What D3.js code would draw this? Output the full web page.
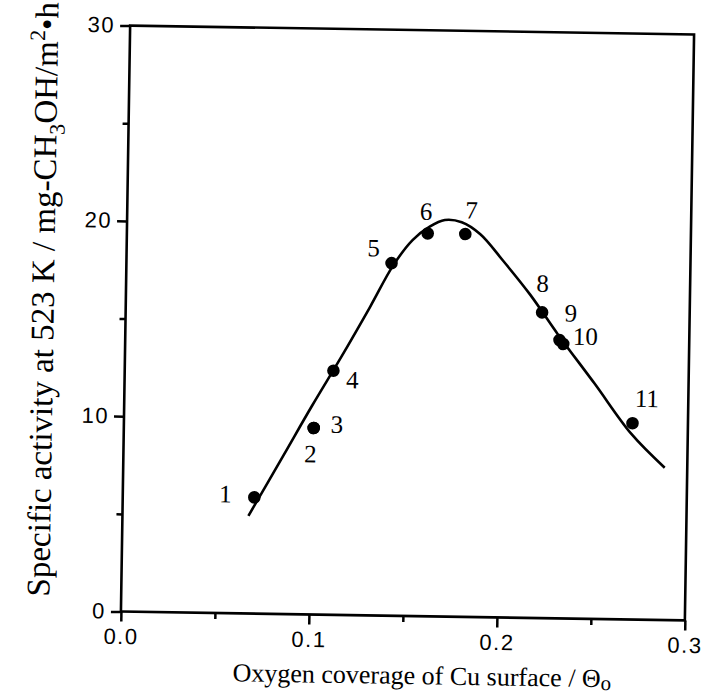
<!DOCTYPE html>
<html>
<head>
<meta charset="utf-8">
<script src="https://cdn.jsdelivr.net/npm/d3@7"></script>
<style>
  body { margin: 0; background: #fff; }
  .serif { font-family: "Liberation Serif", "Times New Roman", serif; fill: #000; }
</style>
</head>
<body>
<div id="chart"></div>
<script>
// sample numbers
var sampleIds = ["1", "2", "3", "4", "5", "6", "7", "8", "9", "10", "11"];
// oxygen coverage of Cu surface
var coverage = [0.070, 0.101, 0.101, 0.111, 0.141, 0.160, 0.180, 0.2215, 0.231, 0.233, 0.2705];
// specific activity at 523 K
var activity = [5.95, 9.55, 9.55, 12.5, 18.05, 19.6, 19.6, 15.65, 14.25, 14.05, 10.05];

// drawn trend curve
var curveX = [0.067, 0.085, 0.100, 0.115, 0.130, 0.142, 0.152, 0.161, 0.169, 0.178, 0.188, 0.200, 0.215, 0.230, 0.250, 0.270, 0.288];
var curveY = [5.0, 8.1, 10.7, 13.2, 15.8, 17.95, 19.25, 19.95, 20.3, 20.2, 19.6, 18.3, 16.55, 14.55, 12.05, 9.5, 7.8];

var xTicks = [0, 0.1, 0.2, 0.3];
var xMinor = [0.05, 0.15, 0.25];
var yTicks = [0, 10, 20, 30];
var yMinor = [5, 15, 25];

// label offsets from each dot (px)
var labelOffsets = [[-29, -3], [-3, 26], [23, -4], [19, 9], [-18, -15], [-2, -22], [6, -24], [0, -29], [11, -27], [22, -8], [14, -25]];

var width = 702, height = 694;
var margin = {top: 30, right: 12.5, bottom: 78, left: 125.5};
var w = width - margin.left - margin.right,
    h = height - margin.top - margin.bottom;

var svg = d3.select("#chart").append("svg")
    .attr("width", width)
    .attr("height", height);

// the scan is a touch rotated
var g = svg.append("g")
    .attr("transform", "rotate(0.9," + (margin.left + w / 2) + "," + (margin.top + h / 2) + ") translate(" + margin.left + "," + margin.top + ")");

var x = d3.scaleLinear().domain([0, 0.3]).range([0, w]);
var y = d3.scaleLinear().domain([0, 30]).range([h, 0]);

var xAxis = g.append("g")
    .attr("transform", "translate(0," + h + ")")
    .call(d3.axisBottom(x).tickValues(xTicks).tickFormat(d3.format(".1f")).tickSize(10).tickPadding(6));

g.append("g")
    .attr("transform", "translate(0," + h + ")")
    .call(d3.axisBottom(x).tickValues(xMinor).tickFormat("").tickSize(6));

var yAxis = g.append("g")
    .call(d3.axisLeft(y).tickValues(yTicks).tickFormat(d3.format("d")).tickSize(10).tickPadding(5));

g.append("g")
    .call(d3.axisLeft(y).tickValues(yMinor).tickFormat("").tickSize(6));

g.selectAll(".domain").remove();

g.selectAll(".tick line")
    .style("stroke", "#000")
    .style("stroke-width", "2.5px");

g.selectAll(".tick text")
    .style("font-family", "'Liberation Sans', Arial, sans-serif")
    .style("font-size", "22px")
    .style("letter-spacing", "1.5px")
    .style("fill", "#000");

xAxis.selectAll(".tick text").attr("dy", "0.75em");
yAxis.selectAll(".tick text").attr("dy", "0.3em");

// frame
g.append("rect")
    .attr("x", 0)
    .attr("y", 0)
    .attr("width", w)
    .attr("height", h)
    .attr("fill", "none")
    .attr("stroke", "#000")
    .attr("stroke-width", 2.6);

var curvePts = curveX.map(function(d, i) { return [d, curveY[i]]; });

g.append("path")
    .datum(curvePts)
    .attr("fill", "none")
    .attr("stroke", "#000")
    .attr("stroke-width", 2.6)
    .attr("d", d3.line()
        .x(function(d) { return x(d[0]); })
        .y(function(d) { return y(d[1]); })
        .curve(d3.curveCatmullRom.alpha(0.5)));

var pts = sampleIds.map(function(id, i) { return {id: id, cx: coverage[i], cy: activity[i], off: labelOffsets[i]}; });

g.selectAll(".dot")
    .data(pts)
    .enter().append("circle")
    .attr("class", "dot")
    .attr("cx", function(d) { return x(d.cx); })
    .attr("cy", function(d) { return y(d.cy); })
    .attr("r", 6.3)
    .attr("fill", "#000");

g.selectAll(".lbl")
    .data(pts)
    .enter().append("text")
    .attr("class", "lbl serif")
    .attr("x", function(d) { return x(d.cx) + d.off[0]; })
    .attr("y", function(d) { return y(d.cy) + d.off[1]; })
    .attr("text-anchor", "middle")
    .attr("dominant-baseline", "central")
    .style("font-size", "25px")
    .text(function(d) { return d.id; });

// axis titles
var xt = g.append("text")
    .attr("class", "serif")
    .attr("x", w / 2 + 20)
    .attr("y", h + 68)
    .attr("text-anchor", "middle")
    .style("font-size", "26px");
xt.append("tspan").text("Oxygen coverage of Cu surface / \u0398");
xt.append("tspan").attr("dy", 3).style("font-size", "21px").text("o");

var yt = g.append("text")
    .attr("class", "serif")
    .attr("transform", "translate(-72," + (h / 2 - 18) + ") rotate(-90)")
    .attr("text-anchor", "middle")
    .style("font-size", "33px");
yt.append("tspan").text("Specific activity at 523 K / mg-CH");
yt.append("tspan").attr("dy", 8).style("font-size", "22px").text("3");
yt.append("tspan").attr("dy", -8).text("OH/m");
yt.append("tspan").attr("dy", -13).style("font-size", "22px").text("2");
yt.append("tspan").attr("dy", 13).text("\u2022h");
</script>
</body>
</html>
